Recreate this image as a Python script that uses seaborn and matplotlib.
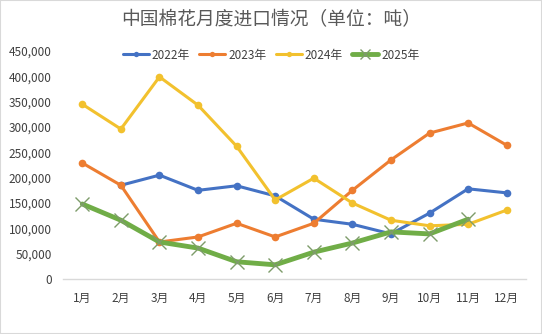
import numpy as np
import pandas as pd
import matplotlib
matplotlib.use("Agg")
import matplotlib.pyplot as plt
import seaborn as sns

months = ["1月", "2月", "3月", "4月", "5月", "6月", "7月", "8月", "9月", "10月", "11月", "12月"]
y2022 = [np.nan, 185000, 205000, 175000, 184000, 164000, 118000, 108000, 89000, 130000, 178000, 170000]
y2023 = [229000, 185000, 73000, 83000, 110000, 83000, 110000, 175000, 235000, 288000, 308000, 264000]
y2024 = [345000, 296000, 399000, 343000, 262000, 156000, 199000, 150000, 116000, 105000, 108000, 136000]
y2025 = [148000, 116000, 73000, 61000, 34000, 28000, 53000, 71000, 93000, 89000, 118000, np.nan]
series_names = ["2022年", "2023年", "2024年", "2025年"]
title = "中国棉花月度进口情况（单位：吨）"

sns.set_theme(style="white")
plt.rcParams['font.family'] = ['Noto Sans CJK SC', 'DejaVu Sans']

fig = plt.figure(figsize=(5.42, 3.34), dpi=100)
ax = fig.add_axes([63/542, 1-279/334, (526-63)/542, (279-51)/334])

colors = ["#4472C4", "#ED7D31", "#F2C12E", "#70AD47"]
data = [y2022, y2023, y2024, y2025]
for name, vals, c in zip(series_names, data, colors):
    df = pd.DataFrame({"x": np.arange(12), "y": vals}).dropna()
    if name == "2025年":
        sns.lineplot(data=df, x="x", y="y", ax=ax, color=c, linewidth=3.5,
                     marker="x", markersize=10, markeredgewidth=1.0,
                     markeredgecolor="#7E9C6A", label=name)
    else:
        sns.lineplot(data=df, x="x", y="y", ax=ax, color=c, linewidth=2.2,
                     marker="o", markersize=5.5, markeredgewidth=0,
                     markeredgecolor=c, label=name)

ax.set_xlim(-0.5, 11.5)
ax.set_ylim(0, 450000)
ax.set_xticks(np.arange(12))
ax.set_xticklabels(months)
yt = np.arange(0, 450001, 50000)
ax.set_yticks(yt)
ax.set_yticklabels([f"{v:,}" for v in yt])
ax.tick_params(axis="both", labelsize=8.5, colors="#404040", length=0)
ax.tick_params(axis="x", pad=9)
ax.tick_params(axis="y", pad=8)
ax.set_xlabel("")
ax.set_ylabel("")
for s in ["top", "right", "left"]:
    ax.spines[s].set_visible(False)
ax.spines["bottom"].set_color("#D9D9D9")
ax.spines["bottom"].set_linewidth(1)
ax.grid(False)

leg = ax.legend(loc="center", bbox_to_anchor=(0.5, 1-55/334), bbox_transform=fig.transFigure,
                ncol=4, frameon=False, fontsize=8.5, handlelength=2.2, columnspacing=0.8,
                handletextpad=0.25, markerscale=0.7)
for t in leg.get_texts():
    t.set_color("#404040")

fig.text(0.5, 1-20/334, title, ha="center", va="center", fontsize=13.5, color="#595959")
fig.patches.append(matplotlib.patches.Rectangle((0, 0), 1, 1, transform=fig.transFigure,
                                                fill=False, edgecolor="#D9D9D9", linewidth=1.5))
fig.savefig("out.png", dpi=100)
